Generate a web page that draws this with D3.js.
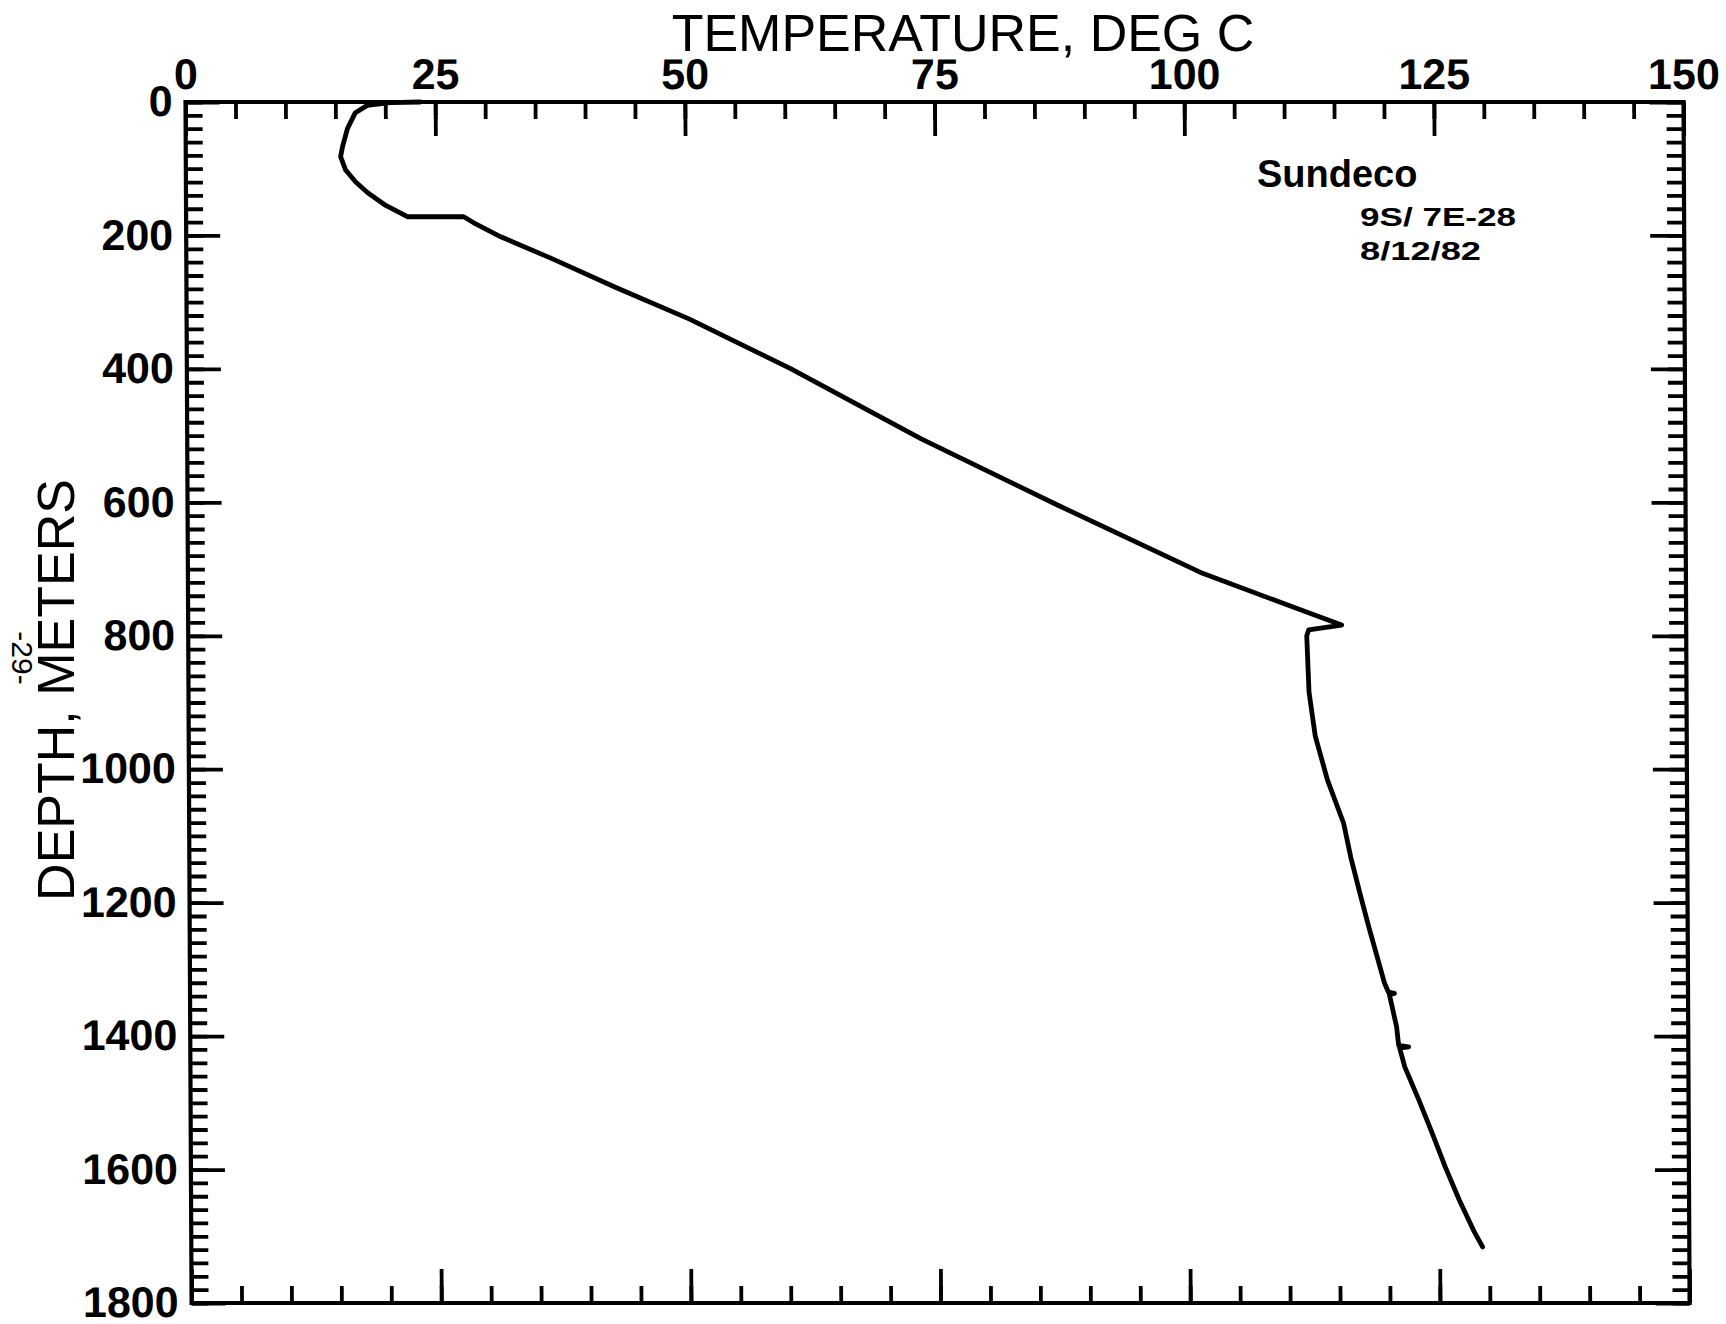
<!DOCTYPE html>
<html lang="en">
<head>
    <meta charset="UTF-8">
    <title>Sundeco temperature log</title>
    <script src="https://cdnjs.cloudflare.com/ajax/libs/d3/7.8.5/d3.min.js"></script>
    <style type="text/css">
        body {
            margin: 0;
            background: #fff;
        }
        text {
            font-family: "Liberation Sans", Arial, sans-serif;
            fill: #000;
        }
    </style>
</head>
<body>

<div class="container"></div>
</body>
<script>
    // temperature log
    const temperatureC = [
        23.5, 20.5, 18.2, 17.0, 16.2, 15.7, 15.5, 16.0, 17.0, 18.2,
        20.0, 22.2, 27.8, 28.8, 31.5, 36.5, 43.0, 50.3, 60.5, 73.5,
        87.1, 101.4, 108.5, 113.0, 115.5, 112.2, 112.0, 112.2, 112.8, 114.0,
        115.6, 116.3, 117.3, 118.1, 119.6, 120.0, 120.6, 120.1, 120.8, 121.0,
        122.0, 121.1, 121.6, 123.0, 124.3, 125.6, 127.0, 128.4, 129.3
    ];
    const depthM = [
        0, 1, 5, 16, 40, 67, 82, 102, 120, 136,
        155, 172, 172, 181, 202, 234, 278, 325, 400, 505,
        604, 705, 745, 770, 784, 791, 800, 884, 950, 1016,
        1081, 1132, 1192, 1238, 1320, 1334, 1336, 1338, 1386, 1414,
        1416, 1418, 1446, 1496, 1545, 1596, 1646, 1691, 1716
    ];

    const tempTicks = [0, 25, 50, 75, 100, 125, 150];
    const depthTicks = [0, 200, 400, 600, 800, 1000, 1200, 1400, 1600, 1800];
    const legendLines = ['Sundeco', '9S/ 7E-28', '8/12/82'];

    const points = temperatureC.map((t, i) => [t, depthM[i]]);

    const W = 1726, H = 1324;
    const plotLeft = 185, plotRight = 1683, plotTop = 102, plotBottom = 1303;

    const svg = d3.select('.container')
        .append('svg')
        .attr('width', W)
        .attr('height', H);

    svg.append('rect')
        .attr('width', W)
        .attr('height', H)
        .attr('fill', '#fff');

    // the scanned page is slightly sheared
    const g = svg.append('g')
        .attr('transform', 'skewX(0.29)');

    const x = d3.scaleLinear().domain([0, 150]).range([plotLeft, plotRight]);
    const y = d3.scaleLinear().domain([0, 1800]).range([plotTop, plotBottom]);

    const minorT = d3.range(0, 151, 5);
    const minorD = d3.range(0, 1801, 20);

    function styleAxis(sel, labels) {
        sel.select('.domain').remove();
        sel.selectAll('line')
            .attr('stroke', '#000')
            .attr('stroke-width', 3.8);
        sel.selectAll('text')
            .attr('font-family', '"Liberation Sans", Arial, sans-serif')
            .attr('font-weight', 'bold')
            .attr('font-size', 43)
            .attr('fill', '#000');
        if (!labels) sel.selectAll('text').remove();
    }

    // top
    g.append('g')
        .attr('transform', 'translate(0,' + plotTop + ')')
        .call(d3.axisTop(x).tickValues(minorT).tickSize(-17))
        .call(s => styleAxis(s, false));
    g.append('g')
        .attr('transform', 'translate(0,' + plotTop + ')')
        .call(d3.axisTop(x).tickValues(tempTicks).tickSize(-34).tickPadding(13).tickFormat(d3.format('d')))
        .call(s => styleAxis(s, true));

    // bottom
    g.append('g')
        .attr('transform', 'translate(0,' + plotBottom + ')')
        .call(d3.axisBottom(x).tickValues(minorT).tickSize(-17))
        .call(s => styleAxis(s, false));
    g.append('g')
        .attr('transform', 'translate(0,' + plotBottom + ')')
        .call(d3.axisBottom(x).tickValues(tempTicks).tickSize(-34))
        .call(s => styleAxis(s, false));

    // left
    g.append('g')
        .attr('transform', 'translate(' + plotLeft + ',0)')
        .call(d3.axisLeft(y).tickValues(minorD).tickSize(-17))
        .call(s => styleAxis(s, false));
    g.append('g')
        .attr('transform', 'translate(' + plotLeft + ',0)')
        .call(d3.axisLeft(y).tickValues(depthTicks).tickSize(-34).tickPadding(13).tickFormat(d3.format('d')))
        .call(s => styleAxis(s, true));

    // right
    g.append('g')
        .attr('transform', 'translate(' + plotRight + ',0)')
        .call(d3.axisRight(y).tickValues(minorD).tickSize(-17))
        .call(s => styleAxis(s, false));
    g.append('g')
        .attr('transform', 'translate(' + plotRight + ',0)')
        .call(d3.axisRight(y).tickValues(depthTicks).tickSize(-34))
        .call(s => styleAxis(s, false));

    g.append('rect')
        .attr('x', plotLeft)
        .attr('y', plotTop)
        .attr('width', plotRight - plotLeft)
        .attr('height', plotBottom - plotTop)
        .attr('fill', 'none')
        .attr('stroke', '#000')
        .attr('stroke-width', 4.2);

    const line = d3.line()
        .x(d => x(d[0]))
        .y(d => y(d[1]));

    g.append('path')
        .attr('d', line(points))
        .attr('fill', 'none')
        .attr('stroke', '#000')
        .attr('stroke-width', 4.8)
        .attr('stroke-linejoin', 'round')
        .attr('stroke-linecap', 'round');

    // titles
    svg.append('text')
        .attr('x', 963)
        .attr('y', 51)
        .attr('text-anchor', 'middle')
        .attr('font-size', 52)
        .text('TEMPERATURE, DEG C');

    svg.append('text')
        .attr('transform', 'translate(74,690) rotate(-90)')
        .attr('text-anchor', 'middle')
        .attr('font-size', 52)
        .text('DEPTH, METERS');

    // page number
    svg.append('text')
        .attr('transform', 'translate(12,658) rotate(90)')
        .attr('text-anchor', 'middle')
        .attr('font-size', 30)
        .text('-29-');

    // well label
    svg.append('text')
        .attr('x', 1257)
        .attr('y', 187)
        .attr('font-size', 38)
        .attr('font-weight', 'bold')
        .text(legendLines[0]);

    svg.append('text')
        .attr('x', 1360)
        .attr('y', 226)
        .attr('font-size', 26)
        .attr('font-weight', 'bold')
        .attr('textLength', 156)
        .attr('lengthAdjust', 'spacingAndGlyphs')
        .text(legendLines[1]);

    svg.append('text')
        .attr('x', 1360)
        .attr('y', 260)
        .attr('font-size', 26)
        .attr('font-weight', 'bold')
        .attr('textLength', 121)
        .attr('lengthAdjust', 'spacingAndGlyphs')
        .text(legendLines[2]);
</script>
</html>
